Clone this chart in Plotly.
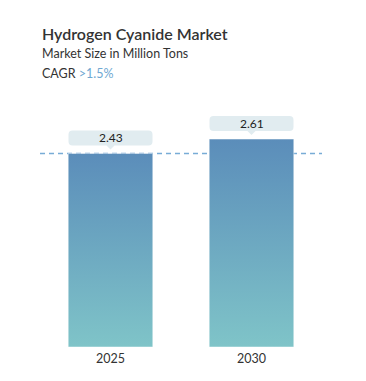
import plotly.graph_objects as go

categories = ["2025", "2030"]
values = [2.43, 2.61]
value_labels = ["2.43", "2.61"]
title = "Hydrogen Cyanide Market"
subtitle = "Market Size in Million Tons"
cagr_label = "CAGR "
cagr_value = ">1.5%"

W, H = 366, 381
L, R, T, B = 40, 44, 108, 34
plot_h = H - T - B
bar_w = 0.6

TOP_C = "#5B8DBA"
BOT_C = "#7FC4C8"
BOX_C = "#E1ECF0"
TXT = "#333333"
FONT = "Lato"

fig = go.Figure()
for i, v in enumerate(values):
    x0, x1 = i - bar_w / 2, i + bar_w / 2
    fig.add_trace(go.Scatter(
        x=[x0, x1, x1, x0, x0], y=[0, 0, v, v, 0],
        mode="lines", fill="toself",
        line=dict(width=0.8, color="rgba(255,255,255,0.6)"),
        fillgradient=dict(type="vertical", colorscale=[[0, BOT_C], [1, TOP_C]]),
        hoverinfo="skip", showlegend=False,
    ))

annotations = []
fig.add_hline(y=values[0], line=dict(color="#78ACD6", width=1.5, dash="5px,4px"), layer="below")

shapes = []
for i, (v, lab) in enumerate(zip(values, value_labels)):
    r = 4
    x0, x1, y0, y1 = -42, 42, 8, 23
    path = (f"M {x0+r},{y0} L -4,{y0} L 0,{y0-4} L 4,{y0} L {x1-r},{y0} "
            f"Q {x1},{y0} {x1},{y0+r} L {x1},{y1-r} Q {x1},{y1} {x1-r},{y1} "
            f"L {x0+r},{y1} Q {x0},{y1} {x0},{y1-r} L {x0},{y0+r} Q {x0},{y0} {x0+r},{y0} Z")
    fig.add_shape(type="path", xref="x", yref="y", xsizemode="pixel", ysizemode="pixel",
                  xanchor=i, yanchor=v, path=path, fillcolor=BOX_C, line=dict(width=0))
    annotations.append(dict(x=i, y=v, xref="x", yref="y", text=lab, showarrow=False,
                            yshift=15.5, yanchor="middle",
                            font=dict(family=FONT, size=12, color="#222222")))

def py(pix):
    return (H - B - pix) / plot_h

def px(pix):
    return (pix - L) / (W - L - R)

annotations += [
    dict(xref="paper", yref="paper", x=px(40), y=py(33), xanchor="left", yanchor="middle",
         text=title, showarrow=False,
         font=dict(family=FONT, size=16, color=TXT, weight=600)),
    dict(xref="paper", yref="paper", x=px(40), y=py(53), xanchor="left", yanchor="middle",
         text=subtitle, showarrow=False, font=dict(family=FONT, size=12.5, color=TXT)),
    dict(xref="paper", yref="paper", x=px(40), y=py(73), xanchor="left", yanchor="middle",
         text=f"{cagr_label}<span style='color:#6FA8D2'>{cagr_value}</span>", showarrow=False,
         font=dict(family=FONT, size=12.5, color=TXT)),
]

fig.update_layout(
    width=W, height=H, margin=dict(l=L, r=R, t=T, b=B),
    paper_bgcolor="white", plot_bgcolor="white",
    annotations=annotations,
    xaxis=dict(range=[-0.5, 1.5], tickvals=[0, 1], ticktext=categories, showgrid=False,
               zeroline=False, showline=False, ticks="", fixedrange=True,
               ticklabelstandoff=2,
               tickfont=dict(family=FONT, size=12.5, color=TXT)),
    yaxis=dict(range=[0, 3], visible=False, showgrid=False, zeroline=False, fixedrange=True),
    showlegend=False,
)
fig.write_html("out.html", config={"displayModeBar": False},
               post_script="document.body.style.margin='0';document.body.style.overflow='hidden';")
